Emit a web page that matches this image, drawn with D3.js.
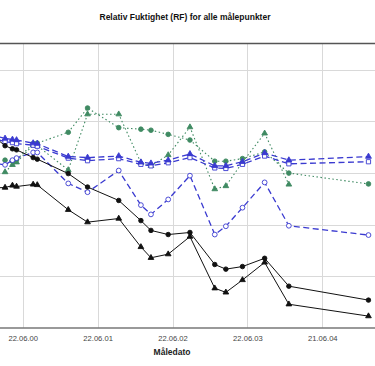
<!DOCTYPE html>
<html>
<head>
  <script src="https://cdn.jsdelivr.net/npm/d3@7"></script>
  <style>
    html, body { margin: 0; background: #fff; }
    svg { font-family: "Liberation Sans", Arial, sans-serif; display: block; }
  </style>
</head>
<body>
<div id="chart"></div>
<script>
  // measurement dates (first one lies left of the visible area)
  var dates = ["2000-01-05", "2000-03-28", "2000-05-03", "2000-05-23", "2000-08-12", "2000-09-01",
               "2001-01-30", "2001-05-04", "2001-10-03", "2002-01-19", "2002-03-09", "2002-06-01",
               "2002-09-15", "2003-01-14", "2003-03-09", "2003-05-29", "2003-09-14", "2004-01-10",
               "2005-02-01"];

  var blackCircle   = [78.0, 75.3, 74.7, 74.5, 73.0, 72.7, 69.9, 67.3, 64.7, 60.8, 58.9, 58.1, 58.5, 52.3, 51.4, 51.9, 53.5, 48.1, 45.4];
  var blackTriangle = [67.1, 67.2, 67.6, 67.4, 67.8, 67.7, 62.9, 60.5, 61.2, 55.7, 53.6, 54.3, 57.7, 47.7, 46.9, 49.3, 52.7, 44.6, 42.3];
  var blueTriangle  = [77.6, 76.7, 76.5, 76.4, 75.8, 75.7, 73.2, 73.0, 73.3, 72.1, 71.9, 72.5, 73.7, 71.4, 71.4, 72.2, 73.9, 72.5, 73.2];
  var blueSquare    = [77.0, 76.1, 75.9, 75.7, 75.4, 75.2, 72.9, 72.4, 72.8, 71.7, 71.4, 72.0, 73.0, 71.0, 70.9, 71.7, 73.3, 71.8, 72.2];
  var blueCircle    = [72.1, 71.6, 72.5, 72.9, 74.0, 74.0, 68.0, 66.3, 70.5, 63.8, 62.0, 64.9, 69.5, 58.1, 59.7, 63.3, 68.2, 59.8, 58.0];
  var greenCircle   = [null, 72.5, 72.3, 72.6, 75.7, 75.8, 77.9, 82.6, 78.8, 78.5, 78.3, 77.5, 76.4, 72.3, 72.3, 72.8, 74.1, 70.0, 67.9];
  var greenTriangle = [null, 70.2, 71.6, 72.1, 75.4, 75.3, 70.6, 81.4, 81.4, 72.0, 71.4, 73.5, 78.9, 66.9, 67.5, 72.1, 77.7, 67.8, null];

  var xTickDates  = ["2000-06-22", "2001-06-22", "2002-06-22", "2003-06-22", "2004-06-21"];
  var xTickLabels = ["22.06.00", "22.06.01", "22.06.02", "22.06.03", "21.06.04"];
  var yTicks = [50, 60, 70, 80, 90];

  var width = 375, height = 366;
  var plotLeft = -60, plotRight = 420, plotTop = 44, plotBottom = 328;

  var parse = d3.utcParse("%Y-%m-%d");
  var t = dates.map(parse);

  var x = d3.scaleUtc()
      .domain([parse(xTickDates[0]), parse(xTickDates[4])])
      .range([22.7, 322.3]);

  var y = d3.scaleLinear()
      .domain([40, 95])
      .range([plotBottom, plotTop]);

  var svg = d3.select("#chart").append("svg")
      .attr("width", width)
      .attr("height", height);

  // grid
  svg.append("g")
    .selectAll("line")
    .data(yTicks)
    .enter().append("line")
      .attr("x1", plotLeft).attr("x2", plotRight)
      .attr("y1", function(d) { return Math.round(y(d)) + 0.5; })
      .attr("y2", function(d) { return Math.round(y(d)) + 0.5; })
      .attr("stroke", "#d9d9d9");

  svg.append("g")
    .selectAll("line")
    .data(xTickDates)
    .enter().append("line")
      .attr("x1", function(d) { return Math.round(x(parse(d))) + 0.5; })
      .attr("x2", function(d) { return Math.round(x(parse(d))) + 0.5; })
      .attr("y1", plotTop).attr("y2", plotBottom)
      .attr("stroke", "#d9d9d9");

  // frame top + x axis line
  svg.append("line")
      .attr("x1", plotLeft).attr("x2", plotRight)
      .attr("y1", plotTop - 0.5).attr("y2", plotTop - 0.5)
      .attr("stroke", "#555").attr("stroke-width", 1.3);

  var xAxis = d3.axisBottom(x)
      .tickValues(xTickDates.map(parse))
      .tickFormat(function(d, i) { return xTickLabels[i]; })
      .tickSize(0)
      .tickPadding(8);

  var gx = svg.append("g")
      .attr("transform", "translate(0," + plotBottom + ")")
      .call(xAxis);
  gx.select(".domain").remove();
  gx.selectAll("text")
      .attr("font-size", "7.6px")
      .attr("font-family", "Liberation Sans, Arial, sans-serif")
      .attr("fill", "#444");

  svg.append("line")
      .attr("x1", plotLeft).attr("x2", plotRight)
      .attr("y1", plotBottom).attr("y2", plotBottom)
      .attr("stroke", "#777").attr("stroke-width", 1.6);

  // series
  var blue = "#3a3ad0", green = "#3f8a62";
  var series = [
    { vals: greenCircle,   color: green,  dash: "1.5,2.5", width: 1.1, sym: d3.symbolCircle,   size: 17, fill: green },
    { vals: greenTriangle, color: green,  dash: "1.5,2.5", width: 1.1, sym: d3.symbolTriangle, size: 14, fill: green },
    { vals: blueCircle,    color: blue,   dash: "6,3.5",   width: 1.3, sym: d3.symbolCircle,   size: 18, fill: "#fff" },
    { vals: blueSquare,    color: blue,   dash: "6,3.5",   width: 1.3, sym: d3.symbolSquare,   size: 18, fill: "#fff" },
    { vals: blueTriangle,  color: blue,   dash: "6,3.5",   width: 1.3, sym: d3.symbolTriangle, size: 15, fill: blue },
    { vals: blackTriangle, color: "#111", dash: null,      width: 1,   sym: d3.symbolTriangle, size: 14, fill: "#111" },
    { vals: blackCircle,   color: "#111", dash: null,      width: 1,   sym: d3.symbolCircle,   size: 16, fill: "#111" }
  ];

  var line = d3.line()
      .defined(function(d) { return d[1] != null; })
      .x(function(d) { return x(d[0]); })
      .y(function(d) { return y(d[1]); });

  series.forEach(function(s) {
    var pts = s.vals.map(function(v, i) { return [t[i], v]; });

    svg.append("path")
        .datum(pts)
        .attr("fill", "none")
        .attr("stroke", s.color)
        .attr("stroke-width", s.width)
        .attr("stroke-dasharray", s.dash)
        .attr("d", line);

    svg.append("g")
      .selectAll("path")
      .data(pts.filter(function(d) { return d[1] != null; }))
      .enter().append("path")
        .attr("transform", function(d) { return "translate(" + x(d[0]) + "," + y(d[1]) + ")"; })
        .attr("d", d3.symbol().type(s.sym).size(s.size))
        .attr("fill", s.fill)
        .attr("stroke", s.color)
        .attr("stroke-width", 0.9);
  });

  // titles
  svg.append("text")
      .attr("x", 185).attr("y", 20)
      .attr("text-anchor", "middle")
      .attr("font-size", "8.5px")
      .attr("font-weight", "bold")
      .attr("fill", "#111")
      .text("Relativ Fuktighet (RF) for alle målepunkter");

  svg.append("text")
      .attr("x", 172).attr("y", 355)
      .attr("text-anchor", "middle")
      .attr("font-size", "8.5px")
      .attr("font-weight", "bold")
      .attr("fill", "#222")
      .text("Måledato");
</script>
</body>
</html>
